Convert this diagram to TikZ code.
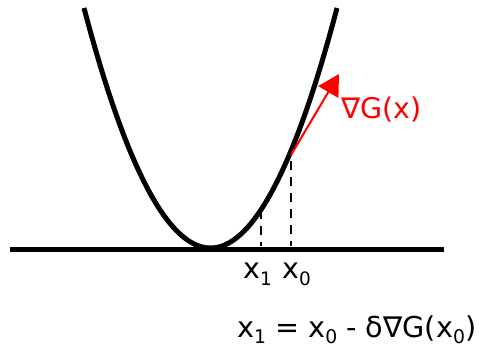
\documentclass[tikz,border=0pt]{standalone}
\usepackage{fontspec}
\setmainfont{DejaVu Sans}
\usetikzlibrary{arrows.meta}
\newcommand{\sbx}[1]{\raisebox{-0.22em}{\fontsize{18.5}{18.5}\selectfont #1}}
\newcommand{\sby}[1]{\raisebox{-0.22em}{\fontsize{18.8}{18.8}\selectfont #1}}
\begin{document}
\begin{tikzpicture}[x=1pt,y=-1pt,
  thick line/.style={line width=5pt,black},
  dashline/.style={line width=1.2pt,dash pattern=on 9pt off 7pt},
  lbl/.style={inner sep=0pt,anchor=base west,font=\fontsize{28.5}{32}\selectfont}]
\useasboundingbox (0,0) rectangle (479,347);
% axis
\coordinate (axL) at (10,250);
\coordinate (axR) at (444,250);
\draw[thick line] (axL) -- (axR);
% parabola
\draw[thick line,line join=round] plot[domain=-126.5:126.5,samples=120,smooth] ({210.5+\x},{248-240*(\x/126.5)^2});
% points on curve
\coordinate (p0) at (291,151);
\coordinate (p1) at (261,210);
\coordinate (b0) at (291,246);
\coordinate (b1) at (261,246);
\coordinate (tip) at (339,74);
\draw[dashline] (p0) ++(0,10) -- (b0);
\draw[dashline] (p1) -- (b1);
% gradient arrow
\draw[red,line width=2pt,-{Triangle[length=21pt,width=23pt]}] (p0) ++(0,4) -- (tip);
\node[lbl,red] (grad) at (341,119) {∇G(x)};
\node[lbl] (x1) at (243,279) {x\sbx{1}};
\node[lbl] (x0) at (282,279) {x\sbx{0}};
\node[lbl,font=\fontsize{28.7}{32}\selectfont] (eq) at (237,337) {x\sby{1} = x\sby{0} - δ∇G(x\sby{0})};
\end{tikzpicture}
\end{document}
